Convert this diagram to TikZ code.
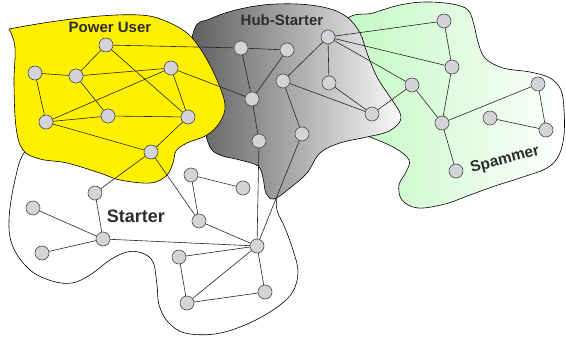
\documentclass[tikz,border=0pt]{standalone}
\usepackage{fontspec}
\newfontfamily\labfont{Liberation Sans}
\definecolor{pyellow}{RGB}{255,240,0}
\definecolor{nodegray}{RGB}{212,212,216}
\definecolor{hubdark}{RGB}{92,92,92}
\definecolor{hublight}{RGB}{250,250,250}
\definecolor{spamgreen}{RGB}{192,248,192}
\definecolor{labcol}{RGB}{45,45,45}
\tikzset{
  vtx/.style={circle,draw=black!70,fill=nodegray,line width=0.6pt,minimum size=14pt,inner sep=0pt},
  blob/.style={draw=black,line width=0.6pt},
  edge/.style={draw=black!85,line width=0.6pt},
  grplabel/.style={text=labcol,font=\labfont\bfseries,inner sep=0pt}
}
\begin{document}
\begin{tikzpicture}[x=1pt,y=-1pt]
\useasboundingbox (0,0) rectangle (566,340);
% Starter blob
\path[blob,fill=white] plot[smooth cycle,tension=0.6] coordinates {
 (26,150) (15,180) (9,220) (13,247) (30,270) (52,281) (72,283) (90,275) (110,260)
 (127,252) (142,253) (153,262) (157,285) (159,305) (168,322) (185,333) (215,334)
 (245,325) (273,310) (292,293) (298,272) (293,250) (285,228) (277,210) (275,190)
 (262,150) (220,120) (150,110) (60,120)};
% Spammer blob
\path[blob,left color=spamgreen,right color=white] plot[smooth cycle,tension=0.6] coordinates {
 (345,22) (373,13) (400,5) (425,2) (452,4) (468,10) (474,25) (478,42) (485,58)
 (503,68) (530,72) (550,78) (561,90) (564,110) (564,135) (559,155) (547,168)
 (520,178) (495,186) (470,195) (445,204) (418,208) (402,200) (399,185) (406,172)
 (409,160) (395,148) (370,137) (345,128) (335,80)};
% Hub-Starter blob
\path[blob,left color=hubdark,right color=hublight] plot[smooth cycle,tension=0.6] coordinates {
 (195,28) (210,19) (232,11) (263,5) (297,4) (327,8) (347,17) (360,33) (367,53)
 (377,77) (390,97) (400,113) (399,123) (387,132) (367,137) (340,143) (320,153)
 (307,173) (290,188) (274,199) (266,193) (263,178) (258,166) (240,160) (220,155)
 (209,145) (200,110) (188,70)};
% Power User blob
\path[blob,fill=pyellow] plot[smooth,tension=0.6] coordinates {
 (9,29) (50,22) (100,16) (140,15) (163,20) (187,33) (203,53) (217,80) (225,105)
 (220,122) (207,135) (187,143) (176,151) (173,163) (166,176) (150,183) (120,180)
 (100,173) (67,163) (40,159) (23,150) (16,127) (14,83) (15,47) (9,29)} -- cycle;
% labels
\node[grplabel,font=\labfont\bfseries\fontsize{15}{15}\selectfont] (lpu) at (110,27) {Power User};
\node[grplabel,font=\labfont\bfseries\fontsize{15}{15}\selectfont] (lhub) at (282,20) {Hub-Starter};
\node[grplabel,font=\labfont\bfseries\fontsize{18}{18}\selectfont] (lst) at (136,216) {Starter};
\node[grplabel,font=\labfont\bfseries\fontsize{15.5}{15.5}\selectfont,rotate=15] (lsp) at (505,160) {Spammer};
% nodes
\coordinate (P1) at (106,45); \coordinate (P2) at (35,73); \coordinate (P3) at (76,76);
\coordinate (P4) at (171,68); \coordinate (P5) at (108,116); \coordinate (P6) at (46,122);
\coordinate (P7) at (188,117); \coordinate (P8) at (151,152);
\coordinate (H1) at (241,48); \coordinate (H2) at (287,50); \coordinate (H3) at (252,99);
\coordinate (H4) at (283,81); \coordinate (H5) at (328,37); \coordinate (H6) at (329,83);
\coordinate (H7) at (372,114); \coordinate (H8) at (259,141); \coordinate (H9) at (302,134);
\coordinate (Q1) at (444,21); \coordinate (Q2) at (452,67); \coordinate (Q3) at (412,85);
\coordinate (Q4) at (442,123); \coordinate (Q5) at (538,84); \coordinate (Q6) at (490,118);
\coordinate (Q7) at (546,130); \coordinate (Q8) at (456,171);
\coordinate (S2) at (95,193); \coordinate (S3) at (33,208); \coordinate (S4) at (42,253);
\coordinate (S5) at (103,239); \coordinate (S6) at (191,175); \coordinate (S7) at (243,188);
\coordinate (S8) at (199,221); \coordinate (S9) at (257,246); \coordinate (S10) at (179,257);
\coordinate (S11) at (187,303); \coordinate (S12) at (265,292);
% edges
\foreach \a/\b in {P1/P3,P1/P7,P1/H1,P2/P3,P2/P6,P3/P4,P3/P5,P4/P6,P4/P7,P4/H3,P6/P5,P5/P7,P6/P8,P7/P8,P8/S2,P8/S8,
 H1/H2,H1/H3,H2/H3,H3/H8,H8/S9,H4/H5,H4/H9,H4/H7,H5/H6,H6/H7,H7/Q3,H9/S9,H5/Q1,H5/Q2,H5/Q3,
 Q1/Q2,Q2/Q4,Q3/Q4,Q4/Q5,Q4/Q8,Q5/Q7,Q6/Q7,
 S2/S5,S3/S5,S4/S5,S5/S9,S6/S7,S6/S8,S8/S9,S9/S10,S9/S11,S9/S12,S10/S11,S11/S12}
  \draw[edge] (\a) -- (\b);
\foreach \n in {P1,P2,P3,P4,P5,P6,P7,P8,H1,H2,H3,H4,H5,H6,H7,H8,H9,Q1,Q2,Q3,Q4,Q5,Q6,Q7,Q8,
 S2,S3,S4,S5,S6,S7,S8,S9,S10,S11,S12}
  \node[vtx] (n\n) at (\n) {};
\end{tikzpicture}
\end{document}
